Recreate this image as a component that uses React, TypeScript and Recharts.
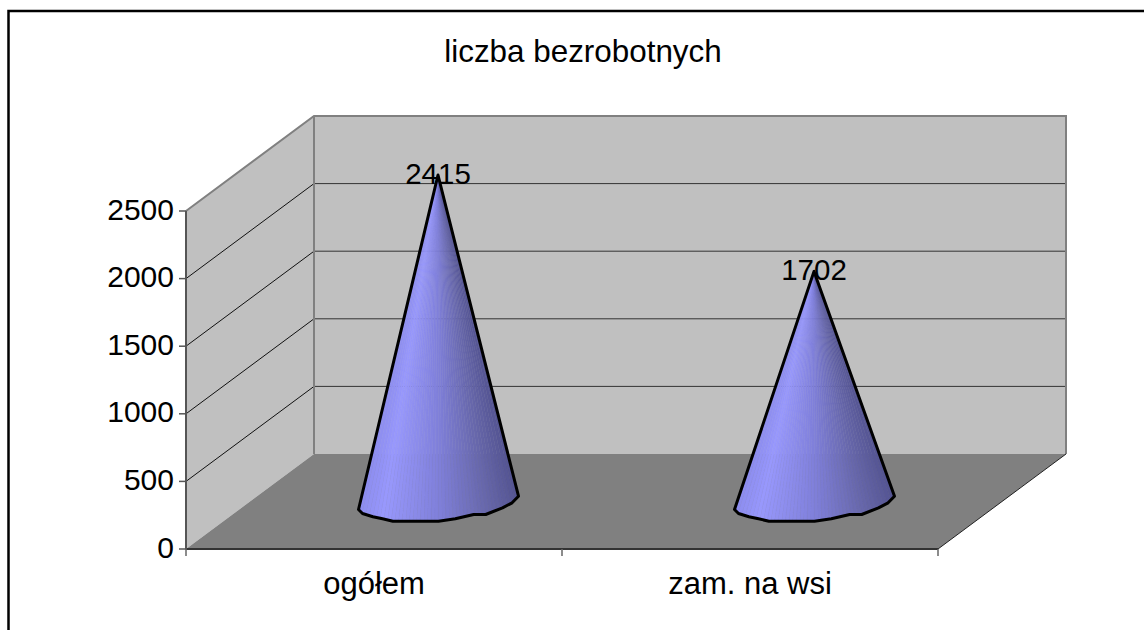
import React from 'react';
import { BarChart, Bar, XAxis, YAxis, Customized, LabelList } from 'recharts';

const categories = ['ogółem', 'zam. na wsi'];
const values = [2415, 1702];
const yTicks = [0, 500, 1000, 1500, 2000, 2500];
const title = 'liczba bezrobotnych';

const rows = categories.map((name, i) => ({ name, value: values[i] }));

const W = 1144, H = 630;
const L = 186, T = 211, R = 938, B = 549;
const DX = 128, DY = -95;
const FONT = '"Liberation Sans", Arial, sans-serif';

const yOf = (v: number) => B - ((B - T) * v) / 2500;

// cone rim, relative to the rim centre, as fractions of half-width (x) and px (y)
const RIM: [number, number][] = [
  [-1, 8], [-0.95, 12], [-0.82, 15.3], [-0.7, 17.3], [-0.57, 19.7], [0, 19.7],
  [0.21, 17.3], [0.44, 13], [0.59, 13], [0.8, 6.3], [0.92, 1.3], [1, -5.3],
];

const lerpColor = (t: number) => {
  const stops: [number, number[]][] = [
    [0, [140, 140, 238]], [0.15, [152, 152, 252]], [0.5, [128, 128, 218]],
    [0.8, [104, 104, 172]], [1, [84, 84, 146]],
  ];
  for (let i = 1; i < stops.length; i++) {
    if (t <= stops[i][0]) {
      const [a, ca] = stops[i - 1];
      const [b, cb] = stops[i];
      const f = (t - a) / (b - a);
      const c = ca.map((v, k) => Math.round(v + (cb[k] - v) * f));
      return `rgb(${c[0]},${c[1]},${c[2]})`;
    }
  }
  return 'rgb(84,84,146)';
};

const rimY = (u: number) => {
  for (let k = 1; k < RIM.length; k++) {
    if (u <= RIM[k][0]) {
      const f = (u - RIM[k - 1][0]) / (RIM[k][0] - RIM[k - 1][0]);
      return RIM[k - 1][1] + (RIM[k][1] - RIM[k - 1][1]) * f;
    }
  }
  return RIM[RIM.length - 1][1];
};

const Cone = (props: any) => {
  const { x, y, width, height } = props;
  const cx = x + width / 2 + DX / 2;
  const tipY = y + DY / 2;
  const baseY = y + height + DY / 2;
  const hw = width / 2;
  const off = 0.5;
  const rimPts = RIM.map(([a, b]) => `${cx + off + a * hw},${baseY + b}`).join(' ');
  const n = 44;
  const strips = [];
  for (let i = 0; i < n; i++) {
    const xa = -1 + (2 * i) / n;
    const xb = -1 + (2 * (i + 1)) / n;
    const color = lerpColor((i + 0.5) / n);
    strips.push(
      <polygon
        key={i}
        points={`${cx},${tipY} ${cx + off + xa * hw},${baseY + rimY(xa)} ${cx + off + xb * hw},${baseY + rimY(xb)}`}
        fill={color}
        stroke={color}
        strokeWidth={0.4}
      />
    );
  }
  return (
    <g>
      {strips}
      <polygon points={`${cx},${tipY} ${rimPts}`} fill="none" stroke="#000" strokeWidth={3} strokeLinejoin="round" />
    </g>
  );
};

const Scene = () => {
  const backTop = T + DY, backBottom = B + DY;
  return (
    <g>
      <polyline points={`8.5,${H} 8.5,11 ${W},11`} fill="none" stroke="#000" strokeWidth={2.5} />
      <text x={583} y={62} textAnchor="middle" fontFamily={FONT} fontSize={31.4} fill="#000">{title}</text>
      <polygon points={`${L + DX},${backTop} ${R + DX},${backTop} ${R + DX},${backBottom} ${L + DX},${backBottom}`} fill="#c0c0c0" />
      <polygon points={`${L},${T} ${L + DX},${backTop} ${L + DX},${backBottom} ${L},${B}`} fill="#c0c0c0" />
      <polygon points={`${L},${B} ${L + DX},${backBottom} ${R + DX},${backBottom} ${R},${B}`} fill="#808080" />
      {yTicks.slice(1, -1).map((v) => (
        <g key={v}>
          <line x1={L} y1={yOf(v)} x2={L + DX} y2={yOf(v) + DY} stroke="#111" strokeWidth={1} />
          <line x1={L + DX} y1={yOf(v) + DY} x2={R + DX} y2={yOf(v) + DY} stroke="#333" strokeWidth={1} />
        </g>
      ))}
      <polyline points={`${L},${T} ${L + DX},${backTop} ${R + DX},${backTop} ${R + DX},${backBottom}`} fill="none" stroke="#808080" strokeWidth={2} />
      <line x1={L + DX} y1={backTop} x2={L + DX} y2={backBottom} stroke="#808080" strokeWidth={2} />
      <line x1={L} y1={B} x2={R} y2={B} stroke="#333" strokeWidth={2} />
      <line x1={R} y1={B} x2={R + DX} y2={backBottom} stroke="#222" strokeWidth={1} />
      {[L, (L + R) / 2, R].map((x) => (
        <line key={x} x1={x} y1={B} x2={x} y2={B + 7} stroke="#666" strokeWidth={1.5} />
      ))}
    </g>
  );
};

const ConeLabel = (props: any) => {
  const { x, y, width, value } = props;
  return (
    <text x={x + width / 2 + DX / 2} y={y + DY / 2 + 9} textAnchor="middle" fontFamily={FONT} fontSize={29.5} fill="#000">
      {value}
    </text>
  );
};

export default function App() {
  return (
    <div style={{ position: 'absolute', left: 0, top: 0, width: W, height: H, overflow: 'hidden', background: '#fff' }}>
      <BarChart
        width={W}
        height={H}
        data={rows}
        barCategoryGap={0}
        margin={{ left: L - 80, top: T, right: W - R, bottom: H - B - 60 }}
      >
        <Customized component={Scene} />
        <XAxis
          dataKey="name"
          height={60}
          axisLine={false}
          tickLine={false}
          tickMargin={17}
          interval={0}
          tick={{ fontFamily: FONT, fontSize: 31, fill: '#000' }}
        />
        <YAxis
          width={80}
          domain={[0, 2500]}
          ticks={yTicks}
          interval={0}
          tickSize={7}
          tickMargin={5}
          axisLine={{ stroke: '#555', strokeWidth: 2 }}
          tickLine={{ stroke: '#555', strokeWidth: 1.5 }}
          tick={{ fontFamily: FONT, fontSize: 30, fill: '#000', dy: -2 }}
        />
        <Bar dataKey="value" barSize={160} isAnimationActive={false} shape={<Cone />}>
          <LabelList dataKey="value" content={<ConeLabel />} />
        </Bar>
      </BarChart>
    </div>
  );
}
